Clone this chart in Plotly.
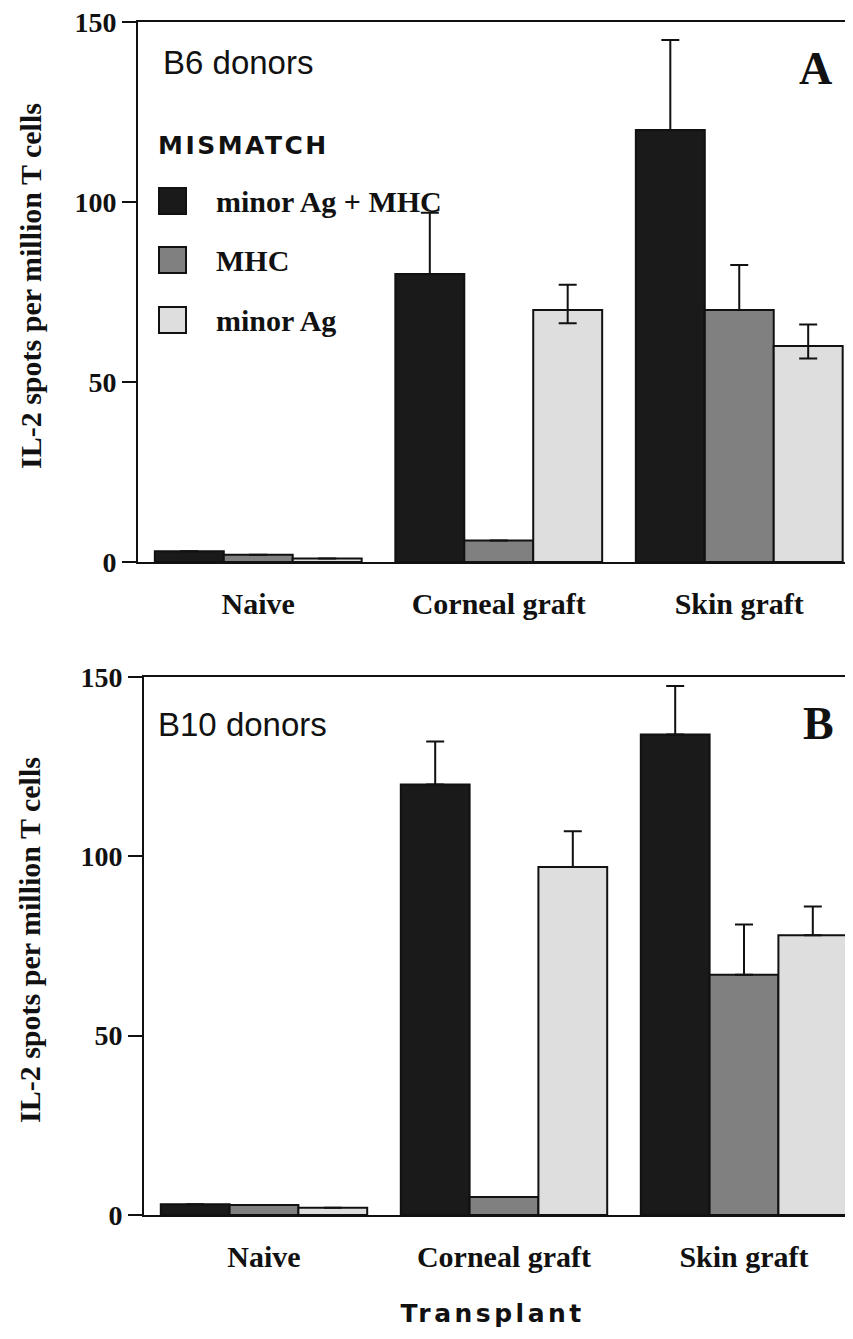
import plotly.graph_objects as go

# ---------------- data ----------------
categories = ["Naive", "Corneal graft", "Skin graft"]
series_names = ["minor Ag + MHC", "MHC", "minor Ag"]

# Panel A: B6 donors
a_black = [3, 80, 120]
a_gray = [2, 6, 70]
a_light = [1, 70, 60]
a_black_err = [0, 17, 25]
a_gray_err = [0, 0, 12.5]
a_light_err = [0, 7, 6]
a_light_err_minus = [0, 3.7, 3.5]

# Panel B: B10 donors
b_black = [3, 120, 134]
b_gray = [2.8, 5, 67]
b_light = [2, 97, 78]
b_black_err = [0, 12, 13.5]
b_gray_err = [0, 0, 14]
b_light_err = [0, 10, 8]

y_ticks = [0, 50, 100, 150]
colors = ["#1a1a1a", "#808080", "#dedede"]

W, H = 853, 1339
OFF = 8  # page body margin in the browser


def px(x):
    return (x - OFF) / W


def py(y):
    return 1 - (y - OFF) / H


SERIF = "Liberation Serif, Times New Roman, serif"
SANS = "Liberation Sans, Arial, sans-serif"
BOLDSANS = "DejaVu Sans, Liberation Sans, sans-serif"
INK = "#111111"

fig = go.Figure()


def add_panel(vals, errs, errs_minus, xa, ya):
    for i, name in enumerate(series_names):
        fig.add_trace(go.Bar(
            x=categories, y=vals[i], name=name,
            marker=dict(color=colors[i], line=dict(color=INK, width=2)),
            error_y=dict(type="data", array=errs[i], arrayminus=errs_minus[i],
                         symmetric=False, color=INK, thickness=2, width=9),
            xaxis=xa, yaxis=ya, showlegend=False, offsetgroup=str(i),
        ))


zero = [0, 0, 0]
add_panel([a_black, a_gray, a_light], [a_black_err, a_gray_err, a_light_err],
          [zero, zero, a_light_err_minus], "x", "y")
add_panel([b_black, b_gray, b_light], [b_black_err, b_gray_err, b_light_err],
          [zero, zero, zero], "x2", "y2")

xcommon = dict(showline=True, linecolor=INK, linewidth=2, mirror=True,
               ticks="", showgrid=False, zeroline=False, ticklabelstandoff=14,
               automargin=False, ticklabeloverflow="allow",
               tickfont=dict(family=SERIF, size=30, color=INK, weight="bold"))
ycommon = dict(showline=True, linecolor=INK, linewidth=2, mirror=False,
               ticks="outside", ticklen=14, tickwidth=2, tickcolor=INK,
               showgrid=False, zeroline=False, range=[0, 150], automargin=False,
               ticklabeloverflow="allow",
               tickvals=y_ticks, ticktext=[str(v) for v in y_ticks],
               tickfont=dict(family=SERIF, size=28, color=INK, weight="bold"))

# category spacing ~240 px; plot areas run past the right edge of the window
a_left, b_left = 138, 144
a_end = -0.5 + (W + OFF - a_left) / 240.5
b_end = -0.5 + (W + OFF - b_left) / 240.0

fig.update_layout(
    width=W, height=H,
    margin=dict(l=0, r=0, t=0, b=0, pad=0, autoexpand=False),
    paper_bgcolor="white", plot_bgcolor="white",
    barmode="group", bargap=0.14, bargroupgap=0,
    showlegend=False,
    xaxis=dict(domain=[px(a_left), 1], anchor="y", range=[-0.5, a_end], **xcommon),
    yaxis=dict(domain=[py(562), py(22)], anchor="x", **ycommon),
    xaxis2=dict(domain=[px(b_left), 1], anchor="y2", range=[-0.5, b_end], **xcommon),
    yaxis2=dict(domain=[py(1215), py(677)], anchor="x2", **ycommon),
)

ann = []
ytitle = "IL-2 spots per million T cells"
for yc in [(22 + 562) / 2 - 6, (677 + 1215) / 2 - 6]:
    ann.append(dict(text=ytitle, x=px(30), y=py(yc), xref="paper", yref="paper",
                    textangle=-90, showarrow=False, xanchor="center", yanchor="middle",
                    font=dict(family=SERIF, size=30, color=INK, weight="bold")))
ann.append(dict(text="B6 donors", x=px(161), y=py(62), xref="paper", yref="paper",
                showarrow=False, xanchor="left", yanchor="middle",
                font=dict(family=SANS, size=33, color=INK)))
ann.append(dict(text="B10 donors", x=px(156), y=py(724), xref="paper", yref="paper",
                showarrow=False, xanchor="left", yanchor="middle",
                font=dict(family=SANS, size=33, color=INK)))
ann.append(dict(text="MISMATCH", x=px(166), y=py(146), xref="paper", yref="paper",
                showarrow=False, xanchor="left", yanchor="middle",
                font=dict(family=BOLDSANS, size=25, color=INK, weight="bold")))
ann.append(dict(text="A", x=px(815), y=py(68), xref="paper", yref="paper",
                showarrow=False, xanchor="center", yanchor="middle",
                font=dict(family=SERIF, size=46, color=INK, weight="bold")))
ann.append(dict(text="B", x=px(818), y=py(723), xref="paper", yref="paper",
                showarrow=False, xanchor="center", yanchor="middle",
                font=dict(family=SERIF, size=46, color=INK, weight="bold")))
ann.append(dict(text="Transplant", x=px(492), y=py(1313), xref="paper", yref="paper",
                showarrow=False, xanchor="center", yanchor="middle",
                font=dict(family=BOLDSANS, size=25, color=INK, weight="bold")))

shapes = []
leg_y = [201, 260, 320]
for i, name in enumerate(series_names):
    shapes.append(dict(type="rect", xref="paper", yref="paper",
                       x0=px(159), x1=px(186), y0=py(leg_y[i] - 13), y1=py(leg_y[i] + 13),
                       fillcolor=colors[i], line=dict(color=INK, width=2)))
    ann.append(dict(text=name, x=px(214), y=py(leg_y[i]), xref="paper", yref="paper",
                    showarrow=False, xanchor="left", yanchor="middle",
                    font=dict(family=SERIF, size=30, color=INK, weight="bold")))

fig.update_layout(annotations=ann, shapes=shapes)

spacing_js = """
(function(){
  function sp(){
    document.querySelectorAll('text.annotation-text').forEach(function(t){
      if (t.textContent === 'Transplant') { t.style.letterSpacing = '3.5px'; }
      if (t.textContent === 'MISMATCH') { t.style.letterSpacing = '2.5px'; }
    });
  }
  sp(); setTimeout(sp, 0); setTimeout(sp, 200);
})();
"""
fig.write_html("out.html", post_script=spacing_js)
